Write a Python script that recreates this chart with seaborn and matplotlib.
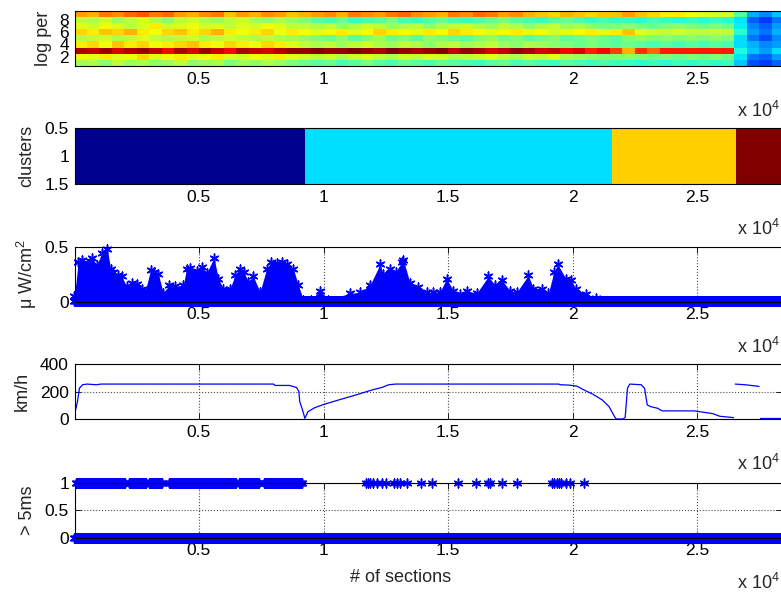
import numpy as np
import pandas as pd
import matplotlib
matplotlib.use('Agg')
import matplotlib.pyplot as plt
from matplotlib.colors import ListedColormap
import seaborn as sns

# section axis (shared by all panels)
n_sections = 28390
xtick_pos = [5000, 10000, 15000, 20000, 25000]
xtick_lab = ['0.5', '1', '1.5', '2', '2.5']

# log-period map: one value (0..1 on the jet scale) per 500 sections, rows = period 9 .. 1
logper_bin = 500
logper_9 = [0.74, 0.72, 0.78, 0.76, 0.80, 0.82, 0.78, 0.80, 0.74, 0.72, 0.76, 0.78, 0.70, 0.74, 0.72, 0.76, 0.74, 0.70,
            0.72,
            0.74, 0.76, 0.72, 0.78, 0.76, 0.74, 0.78, 0.80, 0.76, 0.74, 0.72, 0.78, 0.76, 0.80, 0.78, 0.74, 0.76, 0.72,
            0.70, 0.68, 0.72, 0.70, 0.68, 0.70,
            0.70,
            0.74, 0.70, 0.68, 0.66, 0.66, 0.64, 0.62, 0.60, 0.60,
            0.45,
            0.30, 0.26, 0.32]
logper_8 = [0.58, 0.56, 0.60, 0.54, 0.58, 0.62, 0.56, 0.52, 0.58, 0.60, 0.56, 0.54, 0.58, 0.60, 0.55, 0.52, 0.56, 0.54,
            0.50,
            0.46, 0.44, 0.48, 0.42, 0.44, 0.46, 0.50, 0.44, 0.42, 0.46, 0.48, 0.44, 0.42, 0.45, 0.48, 0.50, 0.46, 0.44,
            0.42, 0.46, 0.48, 0.44, 0.42, 0.44,
            0.42,
            0.42, 0.40, 0.44, 0.42, 0.40, 0.42, 0.40, 0.42, 0.40,
            0.35,
            0.22, 0.18, 0.24]
logper_7 = [0.62, 0.60, 0.64, 0.62, 0.58, 0.62, 0.66, 0.60, 0.62, 0.64, 0.60, 0.62, 0.58, 0.62, 0.60, 0.64, 0.62, 0.58,
            0.58,
            0.56, 0.58, 0.54, 0.56, 0.60, 0.58, 0.54, 0.56, 0.58, 0.52, 0.56, 0.58, 0.60, 0.56, 0.54, 0.58, 0.56, 0.52,
            0.56, 0.58, 0.54, 0.56, 0.52, 0.50,
            0.50,
            0.52, 0.50, 0.48, 0.50, 0.52, 0.50, 0.48, 0.50, 0.48,
            0.36,
            0.25, 0.22, 0.28]
logper_6 = [0.68, 0.66, 0.70, 0.68, 0.72, 0.66, 0.64, 0.68, 0.70, 0.66, 0.68, 0.72, 0.66, 0.64, 0.66, 0.68, 0.64, 0.66,
            0.64,
            0.62, 0.64, 0.66, 0.62, 0.64, 0.68, 0.66, 0.64, 0.62, 0.66, 0.64, 0.68, 0.66, 0.64, 0.62, 0.64, 0.66, 0.62,
            0.64, 0.60, 0.62, 0.64, 0.66, 0.62,
            0.66,
            0.70, 0.62, 0.60, 0.58, 0.60, 0.58, 0.58, 0.58, 0.58,
            0.40,
            0.28, 0.24, 0.30]
logper_5 = [0.56, 0.58, 0.60, 0.56, 0.58, 0.62, 0.58, 0.56, 0.58, 0.60, 0.56, 0.58, 0.60, 0.58, 0.56, 0.58, 0.56, 0.54,
            0.52,
            0.50, 0.48, 0.52, 0.46, 0.50, 0.54, 0.48, 0.50, 0.46, 0.52, 0.50, 0.48, 0.46, 0.50, 0.52, 0.48, 0.50, 0.46,
            0.48, 0.50, 0.46, 0.48, 0.50, 0.48,
            0.46,
            0.50, 0.52, 0.50, 0.52, 0.50, 0.52, 0.50, 0.52, 0.50,
            0.34,
            0.24, 0.20, 0.26]
logper_4 = [0.66, 0.68, 0.64, 0.70, 0.66, 0.68, 0.64, 0.66, 0.68, 0.70, 0.66, 0.64, 0.68, 0.66, 0.64, 0.68, 0.66, 0.62,
            0.58,
            0.56, 0.58, 0.54, 0.58, 0.60, 0.56, 0.54, 0.58, 0.56, 0.52, 0.56, 0.58, 0.54, 0.56, 0.58, 0.54, 0.52, 0.56,
            0.54, 0.52, 0.50, 0.48, 0.50, 0.48,
            0.46,
            0.48, 0.46, 0.44, 0.46, 0.44, 0.46, 0.44, 0.46, 0.44,
            0.34,
            0.30, 0.26, 0.28]
logper_3 = [0.96, 0.94, 0.98, 0.92, 0.96, 0.98, 0.94, 0.90, 0.96, 0.92, 0.98, 0.94, 0.90, 0.96, 0.94, 0.92, 0.96, 0.98,
            0.98,
            1.00, 0.98, 0.98, 1.00, 0.98, 0.96, 1.00, 0.98, 0.96, 0.98, 1.00, 0.94, 0.98, 0.96, 0.92, 0.94, 0.98, 0.96,
            0.92, 0.94, 0.90, 0.92, 0.88, 0.90,
            0.84,
            0.72, 0.86, 0.80, 0.88, 0.88, 0.88, 0.88, 0.88, 0.88,
            0.38,
            0.32, 0.28, 0.34]
logper_2 = [0.64, 0.62, 0.66, 0.62, 0.64, 0.68, 0.62, 0.64, 0.66, 0.62, 0.64, 0.66, 0.62, 0.60, 0.64, 0.62, 0.66, 0.62,
            0.60,
            0.58, 0.60, 0.56, 0.60, 0.62, 0.58, 0.56, 0.60, 0.58, 0.62, 0.60, 0.56, 0.58, 0.60, 0.62, 0.58, 0.56, 0.60,
            0.58, 0.62, 0.56, 0.54, 0.52, 0.50,
            0.50,
            0.52, 0.50, 0.48, 0.50, 0.48, 0.50, 0.48, 0.50, 0.48,
            0.35,
            0.24, 0.22, 0.28]
logper_1 = [0.54, 0.56, 0.52, 0.58, 0.54, 0.56, 0.52, 0.54, 0.58, 0.52, 0.54, 0.56, 0.50, 0.54, 0.52, 0.56, 0.54, 0.50,
            0.48,
            0.46, 0.48, 0.44, 0.46, 0.50, 0.46, 0.44, 0.48, 0.46, 0.44, 0.48, 0.46, 0.44, 0.42, 0.46, 0.48, 0.44, 0.46,
            0.44, 0.42, 0.46, 0.44, 0.42, 0.44,
            0.42,
            0.42, 0.40, 0.42, 0.40, 0.42, 0.40, 0.42, 0.40, 0.42,
            0.32,
            0.20, 0.18, 0.22]

# cluster label per stretch of sections
cluster_id = [1, 2, 3, 4]
cluster_end = [9260, 21600, 26570, 28390]

# irradiance (uW/cm^2): upper envelope of the samples
uw_sec = [0, 150, 300, 620, 716, 890, 1091, 1319, 1450, 1560, 1750, 1894, 2095, 2300, 2497, 2700, 2832, 3059,
          3200, 3367, 3567, 3800, 4036, 4370, 4500, 4638, 4900, 5107, 5308, 5603, 5776, 5977, 6245, 6450, 6647,
          6800, 6981, 7182, 7450, 7718, 7900, 8119, 8350, 8521, 8789, 8989, 9190, 9500, 9859, 10200, 11064,
          11465, 11867, 12269, 12400, 12670, 12900, 13139, 13206, 13474, 13808, 14143, 14410, 14677, 14945,
          15213, 15481, 15749, 16150, 16618, 16886, 17154, 17488, 17756, 18225, 18425, 18760, 19028, 19250,
          19404, 19730, 19930, 20131, 20533, 20934, 21500, 28390]
uw_val = [0.05, 0.36, 0.38, 0.37, 0.40, 0.33, 0.44, 0.48, 0.30, 0.27, 0.24, 0.23, 0.14, 0.17, 0.16, 0.12, 0.09, 0.29,
          0.27, 0.25, 0.08, 0.15, 0.14, 0.15, 0.30, 0.31, 0.28, 0.32, 0.26, 0.40, 0.21, 0.12, 0.12, 0.24, 0.30,
          0.27, 0.18, 0.23, 0.09, 0.30, 0.36, 0.35, 0.36, 0.34, 0.30, 0.15, 0.02, 0.02, 0.10, 0.02, 0.076,
          0.085, 0.15, 0.34, 0.25, 0.30, 0.27, 0.36, 0.38, 0.17, 0.13, 0.085, 0.09, 0.09, 0.21,
          0.10, 0.067, 0.10, 0.076, 0.23, 0.15, 0.20, 0.10, 0.085, 0.24, 0.12, 0.12, 0.076, 0.27,
          0.34, 0.21, 0.20, 0.12, 0.067, 0.03, 0.01, 0.01]

# speed (km/h); None marks gaps in the record
speed_sec = [46, 120, 200, 323, 508, 878, 1063, 7992, 8050, 8640, 8917, 9009, 9046, 9157, 9250, 9379, 9656,
             10026, 10488, 11227, 11966, 12336, 12613, 12890, 19434, 19527, 19896, 20173, 20450, 20819, 21189,
             21466, 21651, 21744, 22021, 22113, 22206, 22298, 22760, 22890, 23000, 23137, 23414, 23599, 24892,
             25262, 25632, 25909, 26463, None, 26530, 26937, 27491, None, 27528, 28390]
speed_kmh = [66, 127, 224, 249, 254, 249, 254, 254, 244, 244, 229, 200, 127, 66, 5, 54, 83,
             107, 132, 171, 212, 229, 249, 254, 254, 249, 246, 239, 212, 180, 139,
             90, 29, 0, 0, 12, 224, 254, 249, 224, 102, 90, 78, 59, 59,
             49, 39, 20, 10, None, 254, 249, 237, None, 5, 5]

# latency > 5 ms: stretches and single sections that contain 1s; every section also has 0 samples
gt5_runs = [(46, 2080), (2172, 2911), (3003, 3558), (3780, 6514), (6607, 7438), (7623, 9157)]
gt5_single = [11689, 11780, 11874, 12000, 12151, 12336, 12521, 12835, 12950, 13075, 13352, 13906, 14368,
              15384, 16124, 16586, 16700, 17177, 17787, 19173, 19265, 19357, 19450, 19542, 19727, 19912, 20466]

# ---------------------------------------------------------------------------
sns.set_style('ticks', {'xtick.direction': 'in', 'ytick.direction': 'in'})
plt.rcParams['font.family'] = ['Liberation Sans', 'DejaVu Sans']
plt.rcParams['mathtext.fontset'] = 'custom'
plt.rcParams['mathtext.rm'] = 'Liberation Sans'
plt.rcParams['mathtext.it'] = 'Liberation Sans'
plt.rcParams['font.size'] = 12.5

W, H = 781, 592
fig = plt.figure(figsize=(W / 100, H / 100), dpi=100)
left_px, right_px = 74.5, 781.5
panels_px = [(10.7, 66), (128, 184), (246.7, 301.7), (364, 419), (482.7, 537.7)]
axes = []
for top, bot in panels_px:
    axes.append(fig.add_axes([left_px / W, 1 - bot / H, (right_px - left_px) / W, (bot - top) / H]))

star = (6, 2, 0)
blue = (0, 0, 1)
cluster_cmap = ListedColormap(['#00008F', '#00DFFF', '#FFCF00', '#800000'])

# 1) log period map
ax = axes[0]
M = np.array([logper_1, logper_2, logper_3, logper_4, logper_5, logper_6, logper_7, logper_8, logper_9])
x_edges = np.arange(M.shape[1] + 1) * logper_bin
y_edges = np.arange(0.5, 10, 1.0)
ax.pcolormesh(x_edges, y_edges, M, cmap='jet', vmin=0, vmax=1)
ax.set_ylim(0.5, 9.5)
ax.set_yticks([2, 4, 6, 8])
ax.set_ylabel('log per')

# 2) clusters
ax = axes[1]
ax.pcolormesh([0] + cluster_end, [0.5, 1.5], np.array([cluster_id]), cmap=cluster_cmap, vmin=0.5, vmax=4.5)
ax.set_ylim(1.5, 0.5)
ax.set_yticks([0.5, 1, 1.5], ['0.5', '1', '1.5'])
ax.set_ylabel('clusters')

# 3) irradiance
ax = axes[2]
ax.fill_between(uw_sec, 0, uw_val, color=blue, lw=0)
uw = pd.DataFrame({'section': uw_sec, 'uw': uw_val})
sns.scatterplot(data=uw, x='section', y='uw', marker=star, color=blue, s=40, linewidth=1.1,
                ax=ax, clip_on=False, legend=False)
base = pd.DataFrame({'section': np.arange(0, n_sections, 40)})
base['zero'] = 0.004
sns.scatterplot(data=base, x='section', y='zero', marker=star, color=blue, s=40, linewidth=1.1,
                ax=ax, clip_on=False, legend=False)
ax.set_ylim(0, 0.5)
ax.set_yticks([0, 0.5], ['0', '0.5'])
ax.set_ylabel('μ W/cm$^{2}$')

# 4) speed
ax = axes[3]
sp = pd.DataFrame({'section': speed_sec, 'kmh': speed_kmh}, dtype=float)
sp['seg'] = sp['section'].isna().cumsum()
sp = sp.dropna()
sns.lineplot(data=sp, x='section', y='kmh', units='seg', estimator=None, color=blue, lw=0.9, ax=ax)
ax.set_ylim(0, 400)
ax.set_yticks([0, 200, 400])
ax.set_ylabel('km/h')

# 5) > 5ms flags
ax = axes[4]
ones = np.concatenate([np.arange(s, e, 40) for s, e in gt5_runs] + [np.array(gt5_single)])
zeros = np.arange(0, n_sections, 40)
fl = pd.DataFrame({'section': np.concatenate([zeros, ones]),
                   'flag': np.concatenate([np.zeros(len(zeros)), np.ones(len(ones))])})
sns.scatterplot(data=fl, x='section', y='flag', marker=star, color=blue, s=40, linewidth=1.1,
                ax=ax, clip_on=False, legend=False)
ax.set_ylim(0, 1)
ax.set_yticks([0, 0.5, 1], ['0', '0.5', '1'])
ax.set_ylabel('> 5ms')

label_x = [44, 27, 27, 22, 28]
for i, ax in enumerate(axes):
    ax.set_xlim(1, n_sections)
    ax.set_xticks(xtick_pos, xtick_lab)
    ax.set_xlabel('')
    ax.tick_params(direction='in', top=True, right=True, length=4, width=0.6, pad=4,
                   labelsize=12.5, colors='black')
    for sp_ in ax.spines.values():
        sp_.set_visible(True)
        sp_.set_linewidth(0.8)
        sp_.set_color('black')
    if i >= 2:
        ax.grid(True, ls=':', color='0.3', lw=0.8)
    ax.yaxis.label.set_size(13)
    ax.yaxis.label.set_verticalalignment('center')
    ax.yaxis.set_label_coords((label_x[i] - left_px) / (right_px - left_px), 0.5)
    bot = panels_px[i][1]
    fig.text(780 / W, 1 - (bot + 45) / H, r'x 10$^{4}$', ha='right', va='center', fontsize=13)

fig.text(401 / W, 1 - 577 / H, '# of sections', ha='center', va='center', fontsize=13)

fig.savefig('out.png', dpi=100)
